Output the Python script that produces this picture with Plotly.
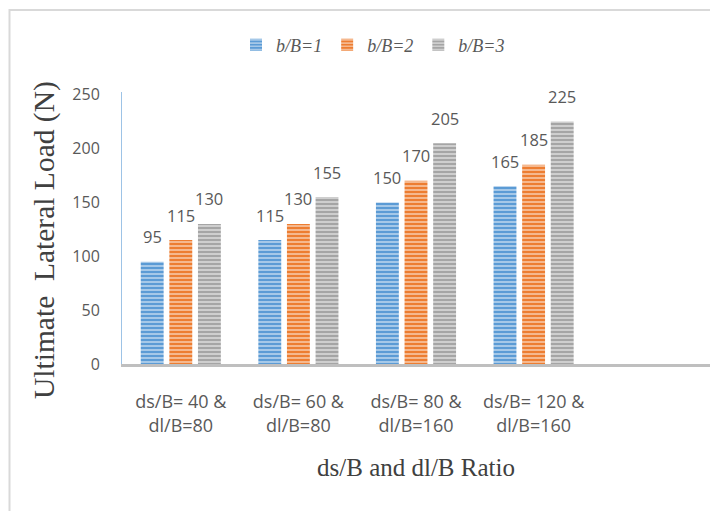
import plotly.graph_objects as go

# ---- data ----
categories = ["ds/B= 40 &<br>dl/B=80", "ds/B= 60 &<br>dl/B=80",
              "ds/B= 80 &<br>dl/B=160", "ds/B= 120 &<br>dl/B=160"]
series_names = ["b/B=1", "b/B=2", "b/B=3"]
values_b1 = [95, 115, 150, 165]
values_b2 = [115, 130, 170, 185]
values_b3 = [130, 155, 205, 225]
y_ticks = [0, 50, 100, 150, 200, 250]

series_values = [values_b1, values_b2, values_b3]
colors = ["#5B9BD5", "#ED7D31", "#A5A5A5"]

# ---- layout geometry (page body has an 8px margin) ----
OFF = 8
W, H = 718, 511
ML, MT = 122 - OFF, 92 - OFF
PW, PH = 588, 272
MR = W - ML - PW
MB = H - MT - PH
n_slots = 5  # one empty slot on the right, as in the reference
BARGAP = 0.27
BARGROUPGAP = 0.2
YMAX = 252.5

def px_x(px):  # screen px -> paper x
    return (px - OFF - ML) / PW

def px_y(py):  # screen px -> paper y
    return (MT + PH - (py - OFF)) / PH

fig = go.Figure()
for name, vals, col in zip(series_names, series_values, colors):
    fig.add_trace(go.Bar(
        name=name, x=categories, y=vals,
        marker=dict(color=col, line=dict(width=0),
                    pattern=dict(shape="-", fgcolor="white", fgopacity=0.5,
                                 size=4, solidity=0.45, fillmode="overlay")),
        hoverinfo="x+y+name",
    ))

# data labels, centred above each bar
cat_px = PW / n_slots
slot_px = cat_px * (1 - BARGAP) / len(series_names)
annotations = []
for i, vals in enumerate(series_values):
    for c, v in zip(categories, vals):
        annotations.append(dict(
            x=c, y=v, xref="x", yref="y", text=str(v), showarrow=False,
            xshift=(i - 1) * slot_px, yshift=25, yanchor="middle",
            font=dict(family="Open Sans", size=16.5, color="#595959")))

# y-axis title
annotations.append(dict(
    x=px_x(44), y=px_y(240), xref="paper", yref="paper",
    text="Ultimate  Lateral Load (N)", textangle=-90, showarrow=False,
    xanchor="center", yanchor="middle",
    font=dict(family="Liberation Serif", size=29.5, color="#404040")))

fig.update_layout(
    width=W, height=H,
    margin=dict(l=ML, r=MR, t=MT, b=MB, autoexpand=False),
    paper_bgcolor="white", plot_bgcolor="white",
    barmode="group", bargap=BARGAP, bargroupgap=BARGROUPGAP,
    showlegend=True,
    legend=dict(orientation="h", x=px_x(373), xanchor="center",
                y=px_y(45), yanchor="middle",
                font=dict(family="Liberation Serif", size=18, color="#595959",
                          style="italic"),
                itemwidth=30, bgcolor="rgba(0,0,0,0)"),
    annotations=annotations,
    shapes=[dict(type="rect", xref="paper", yref="paper",
                 x0=px_x(9.5), x1=px_x(780), y0=px_y(580), y1=px_y(10),
                 line=dict(color="#D9D9D9", width=2), layer="below")],
    xaxis=dict(
        type="category", range=[-0.5, n_slots - 0.5],
        showline=True, linecolor="#BFBFBF", linewidth=2.5,
        showgrid=False, ticks="", ticklabelstandoff=20,
        tickfont=dict(family="Open Sans", size=18, color="#595959"),
        title=dict(text="ds/B and dl/B Ratio", standoff=23,
                   font=dict(family="Liberation Serif", size=25, color="#404040")),
    ),
    yaxis=dict(
        range=[0, YMAX], tickvals=y_ticks,
        showline=True, linecolor="#9DC3E6", linewidth=1,
        showgrid=False, zeroline=False, ticks="", ticklabelstandoff=18,
        tickfont=dict(family="Open Sans", size=16, color="#595959"),
    ),
)

fig.write_html("out.html")
